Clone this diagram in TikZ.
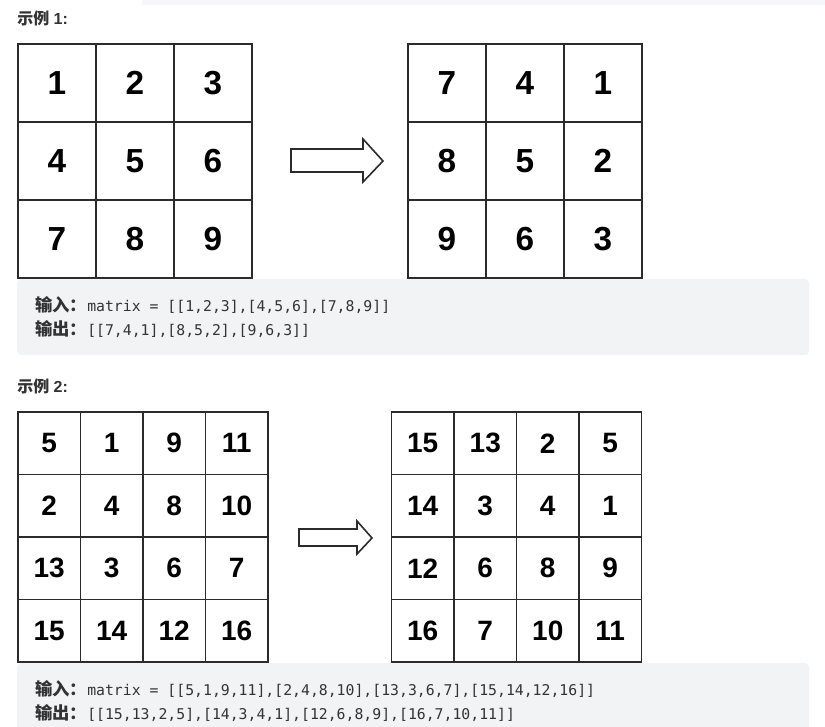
\documentclass[tikz,border=0pt]{standalone}
\usepackage{fontspec}
\setmainfont{Liberation Sans}
\newfontfamily\cjk{Noto Sans CJK SC}
\newfontfamily\mono{DejaVu Sans Mono}
\definecolor{sfondo}{HTML}{F2F3F5}
\definecolor{testo}{HTML}{333333}
\definecolor{bordo}{HTML}{2B2B2B}

\begin{document}
\begin{tikzpicture}[x=0.75pt,y=-0.75pt,
    cella/.style={draw=bordo,line width=1.4pt,inner sep=0pt},
    grande/.style={cella,minimum size=58.5pt,font=\fontsize{25}{25}\selectfont\bfseries},
    piccola/.style={cella,minimum size=46.875pt,font=\fontsize{21}{21}\selectfont\bfseries},
    titolo/.style={anchor=west,inner sep=0pt,text=testo,font=\fontsize{12}{12}\selectfont\bfseries},
    codice/.style={anchor=west,inner sep=0pt,text=testo,font=\fontsize{11.1}{12}\selectfont\mono},
    freccia/.style={draw=bordo,line width=1.2pt,fill=white,line join=miter}]

    \useasboundingbox (0,0) rectangle (825,727);

    %%%%%%%%%% Sfondi %%%%%%%%%%
    \fill[sfondo!70] (142,0) rectangle (825,5);
    \fill[sfondo,rounded corners=3pt] (17,279) rectangle (809,355);
    \fill[sfondo,rounded corners=3pt] (17,663) rectangle (809,740);

    %%%%%%%%%% Esempio 1 %%%%%%%%%%
    \node[titolo] (es1) at (17,18) {{\cjk 示例} 1:};
    \foreach \riga [count=\r] in {{1,2,3},{4,5,6},{7,8,9}}
        \foreach \v [count=\c] in \riga
            \node[grande] (a\r\c) at ({18+78*(\c-0.5)},{44+78*(\r-0.5)}) {\v};
    \foreach \riga [count=\r] in {{7,4,1},{8,5,2},{9,6,3}}
        \foreach \v [count=\c] in \riga
            \node[grande] (b\r\c) at ({408+78*(\c-0.5)},{44+78*(\r-0.5)}) {\v};
    \draw[freccia] (291,149) -- (363,149) -- (363,139) -- (383,161)
        -- (363,182) -- (363,172) -- (291,172) -- cycle;
    \node[codice] (inp1) at (35,305) {{\cjk\bfseries\fontsize{13}{13}\selectfont 输入：}matrix = [[1,2,3],[4,5,6],[7,8,9]]};
    \node[codice] (out1) at (35,329) {{\cjk\bfseries\fontsize{13}{13}\selectfont 输出：}[[7,4,1],[8,5,2],[9,6,3]]};

    %%%%%%%%%% Esempio 2 %%%%%%%%%%
    \node[titolo] (es2) at (17,386) {{\cjk 示例} 2:};
    \foreach \riga [count=\r] in {{5,1,9,11},{2,4,8,10},{13,3,6,7},{15,14,12,16}}
        \foreach \v [count=\c] in \riga
            \node[piccola] (c\r\c) at ({18+62.5*(\c-0.5)},{412+62.5*(\r-0.5)}) {\v};
    \foreach \riga [count=\r] in {{15,13,2,5},{14,3,4,1},{12,6,8,9},{16,7,10,11}}
        \foreach \v [count=\c] in \riga
            \node[piccola] (d\r\c) at ({391.5+62.5*(\c-0.5)},{412+62.5*(\r-0.5)}) {\v};
    \draw[freccia] (299,529) -- (357,529) -- (357,521) -- (372,538)
        -- (357,554) -- (357,546) -- (299,546) -- cycle;
    \node[codice] (inp2) at (35,689) {{\cjk\bfseries\fontsize{13}{13}\selectfont 输入：}matrix = [[5,1,9,11],[2,4,8,10],[13,3,6,7],[15,14,12,16]]};
    \node[codice] (out2) at (35,713) {{\cjk\bfseries\fontsize{13}{13}\selectfont 输出：}[[15,13,2,5],[14,3,4,1],[12,6,8,9],[16,7,10,11]]};
\end{tikzpicture}
\end{document}
